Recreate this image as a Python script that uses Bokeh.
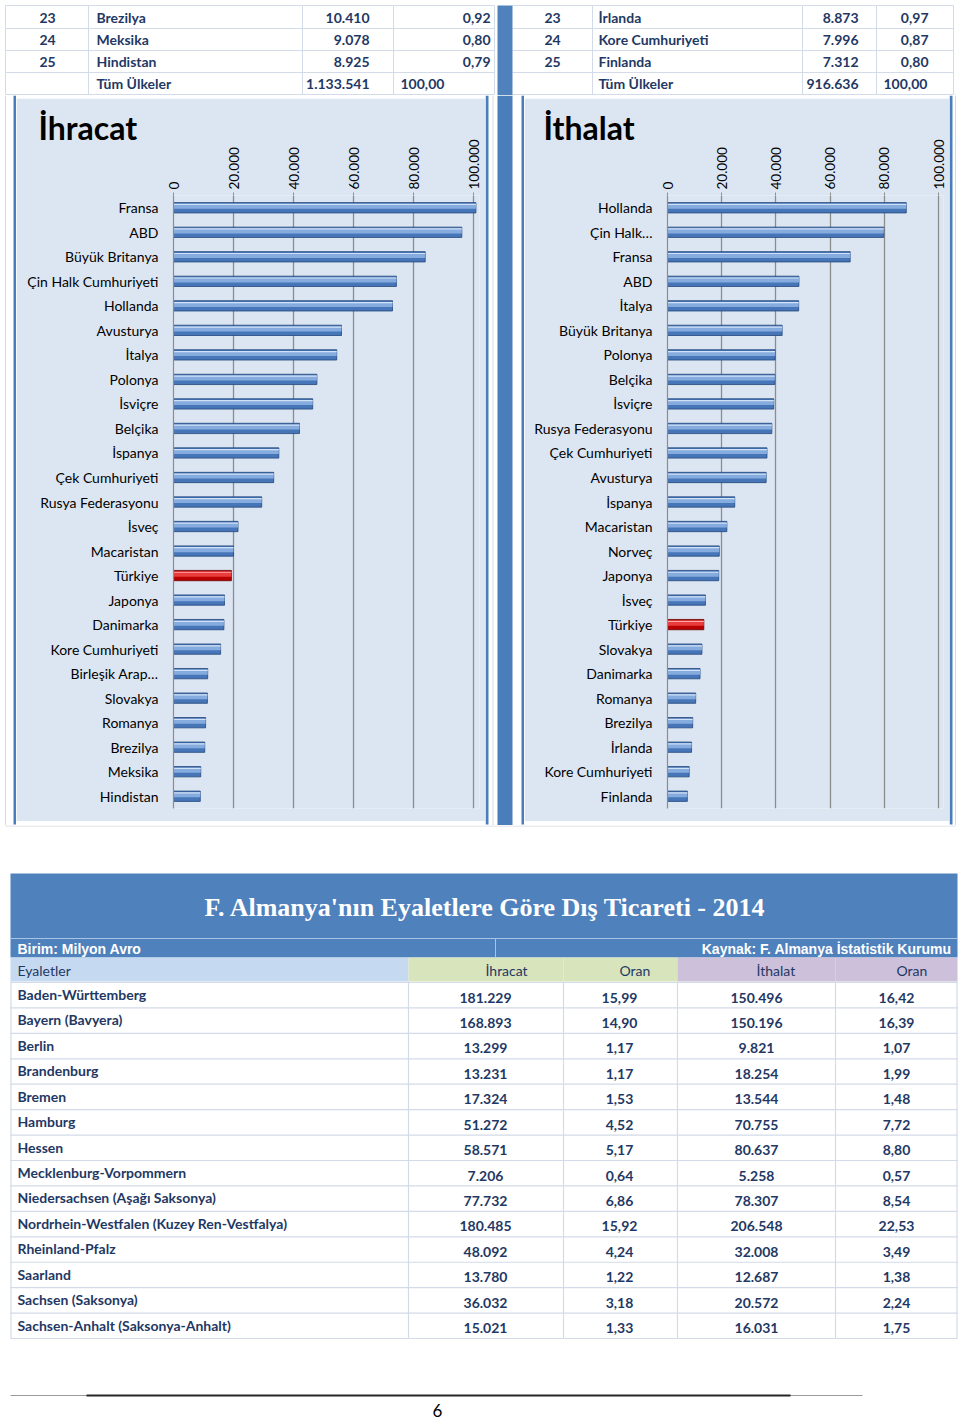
from bokeh.plotting import figure
from bokeh.layouts import column, row
from bokeh.models import ColumnDataSource, FactorRange, Range1d, FixedTicker
from bokeh.transform import dodge
from bokeh.core.properties import value
from bokeh.embed import file_html
from bokeh.resources import INLINE

# ---------------- data ----------------
top_ranks = ["23", "24", "25", ""]
exp_tail_countries = ["Brezilya", "Meksika", "Hindistan", "Tüm Ülkeler"]
exp_tail_values = ["10.410", "9.078", "8.925", "1.133.541"]
exp_tail_shares = ["0,92", "0,80", "0,79", "100,00"]
imp_tail_countries = ["İrlanda", "Kore Cumhuriyeti", "Finlanda", "Tüm Ülkeler"]
imp_tail_values = ["8.873", "7.996", "7.312", "916.636"]
imp_tail_shares = ["0,97", "0,87", "0,80", "100,00"]

export_title = "İhracat"
export_countries = ["Fransa", "ABD", "Büyük Britanya", "Çin Halk Cumhuriyeti", "Hollanda",
                    "Avusturya", "İtalya", "Polonya", "İsviçre", "Belçika", "İspanya",
                    "Çek Cumhuriyeti", "Rusya Federasyonu", "İsveç", "Macaristan", "Türkiye",
                    "Japonya", "Danimarka", "Kore Cumhuriyeti", "Birleşik Arap…", "Slovakya",
                    "Romanya", "Brezilya", "Meksika", "Hindistan"]
export_values = [100800, 96100, 83900, 74300, 73000, 56000, 54400, 47800, 46400, 42000,
                 35100, 33400, 29400, 21500, 20000, 19300, 17000, 16800, 15700, 11400,
                 11300, 10700, 10410, 9078, 8925]

import_title = "İthalat"
import_countries = ["Hollanda", "Çin Halk…", "Fransa", "ABD", "İtalya", "Büyük Britanya",
                    "Polonya", "Belçika", "İsviçre", "Rusya Federasyonu", "Çek Cumhuriyeti",
                    "Avusturya", "İspanya", "Macaristan", "Norveç", "Japonya", "İsveç",
                    "Türkiye", "Slovakya", "Danimarka", "Romanya", "Brezilya", "İrlanda",
                    "Kore Cumhuriyeti", "Finlanda"]
import_values = [88100, 79800, 67400, 48500, 48400, 42300, 39700, 39600, 39200, 38500,
                 36700, 36400, 24800, 21900, 19100, 18900, 14000, 13400, 12700, 12000,
                 10400, 9300, 8873, 7996, 7312]

axis_ticks = [0, 20000, 40000, 60000, 80000, 100000]
axis_tick_labels = ["0", "20.000", "40.000", "60.000", "80.000", "100.000"]
highlight_country = "Türkiye"

table_title = "F. Almanya'nın Eyaletlere Göre Dış Ticareti - 2014"
unit_note = "Birim: Milyon Avro"
source_note = "Kaynak: F. Almanya İstatistik Kurumu"
header_labels = ["Eyaletler", "İhracat", "Oran", "İthalat", "Oran"]
states = ["Baden-Württemberg", "Bayern (Bavyera)", "Berlin", "Brandenburg", "Bremen",
          "Hamburg", "Hessen", "Mecklenburg-Vorpommern", "Niedersachsen (Aşağı Saksonya)",
          "Nordrhein-Westfalen (Kuzey Ren-Vestfalya)", "Rheinland-Pfalz", "Saarland",
          "Sachsen (Saksonya)", "Sachsen-Anhalt (Saksonya-Anhalt)"]
state_exports = ["181.229", "168.893", "13.299", "13.231", "17.324", "51.272", "58.571",
                 "7.206", "77.732", "180.485", "48.092", "13.780", "36.032", "15.021"]
state_export_shares = ["15,99", "14,90", "1,17", "1,17", "1,53", "4,52", "5,17", "0,64",
                       "6,86", "15,92", "4,24", "1,22", "3,18", "1,33"]
state_imports = ["150.496", "150.196", "9.821", "18.254", "13.544", "70.755", "80.637",
                 "5.258", "78.307", "206.548", "32.008", "12.687", "20.572", "16.031"]
state_import_shares = ["16,42", "16,39", "1,07", "1,99", "1,48", "7,72", "8,80", "0,57",
                       "8,54", "22,53", "3,49", "1,38", "2,24", "1,75"]
page_number = "6"

# ---------------- style ----------------
FONT = "Lato"
NAVY = "#1f3864"
BLUE = "#4f81bd"
BOX_BLUE = "#4a7ebb"
BG = "#dce6f2"
GRID = "#8c8c8c"
LINE = "#d3dbe8"
FRAME = "#d9d9d9"


def page_fig(x0, x1, y0, y1, bg="white"):
    p = figure(width=x1 - x0, height=y1 - y0, x_range=Range1d(x0, x1), y_range=Range1d(y1, y0),
               toolbar_location=None, output_backend="svg", min_border=0,
               x_axis_type=None, y_axis_type=None, outline_line_color=None,
               background_fill_color=bg, border_fill_color=bg)
    return p


def txt(p, x, y, t, size="14px", style="bold", color=NAVY, align="left", font=FONT):
    p.text(x=x, y=y, text=t, text_font=value(font), text_font_size=size,
           text_font_style=style, text_color=color, text_align=align, text_baseline="middle")


# ---------------- top table ----------------
top = page_fig(0, 960, 0, 95)
ty = [6 + 22 * i + 11 for i in range(len(top_ranks))]
hy = [5, 28, 50, 72, 94]
for x0, x1 in [(5, 494), (512, 953)]:
    top.segment(x0=[x0] * 5, x1=[x1] * 5, y0=hy, y1=hy, line_color=LINE, line_width=1)
vx = [5, 88, 302, 393, 494, 592, 802, 876, 953]
top.segment(x0=vx, x1=vx, y0=[5] * len(vx), y1=[94] * len(vx), line_color=LINE, line_width=1)
top.segment(x0=[5, 955], x1=[5, 955], y0=[94, 94], y1=[95, 95], line_color=FRAME)
top.quad(left=[497], right=[512], top=[5], bottom=[95], fill_color=BLUE, line_color=None)

txt(top, [47] * 4, ty, top_ranks, align="center")
txt(top, [96] * 4, ty, exp_tail_countries)
txt(top, [369] * 4, ty, exp_tail_values, align="right")
txt(top, [490] * 3, ty[:3], exp_tail_shares[:3], align="right")
txt(top, [400], ty[3:], exp_tail_shares[3:])
txt(top, [552] * 4, ty, top_ranks, align="center")
txt(top, [598] * 4, ty, imp_tail_countries)
txt(top, [858] * 4, ty, imp_tail_values, align="right")
txt(top, [928] * 3, ty[:3], imp_tail_shares[:3], align="right")
txt(top, [883], ty[3:], imp_tail_shares[3:])

# ---------------- bar charts ----------------
CH = 723


def bar_chart(names, vals, title, width, left_pad, frame_w, px_per_unit, title_dx):
    right_pad = width - left_pad - frame_w
    hl = [n == highlight_country for n in names]
    src = ColumnDataSource(dict(
        name=names, val=vals,
        base=["#b80000" if h else "#4676b8" for h in hl],
        edge=["#6a0000" if h else "#23467a" for h in hl],
        mid=["#ea3c3c" if h else "#86acdf" for h in hl],
        hi=["#ffa8a8" if h else "#d2e2f6" for h in hl]))
    p = figure(width=width, height=CH, x_range=Range1d(0, frame_w / px_per_unit),
               y_range=FactorRange(factors=names[::-1]), x_axis_location="above",
               toolbar_location=None, output_backend="svg", title=title,
               min_border_left=left_pad, min_border_right=right_pad,
               min_border_top=97, min_border_bottom=13,
               background_fill_color=BG, border_fill_color=BG, outline_line_color=None)
    p.title.align = "left"
    p.title.offset = title_dx
    p.title.text_font = FONT
    p.title.text_font_size = "32px"
    p.title.text_font_style = "bold"
    p.title.text_color = "black"
    try:
        p.title.standoff = -20
    except Exception:
        p.title.standoff = 0

    p.hbar(y="name", left=0, right="val", height=0.42, source=src,
           fill_color="base", line_color="edge", line_width=0.8)
    p.hbar(y=dodge("name", 0.055, range=p.y_range), left=0, right="val", height=0.2,
           source=src, fill_color="mid", line_color=None)
    p.hbar(y=dodge("name", 0.135, range=p.y_range), left=0, right="val", height=0.05,
           source=src, fill_color="hi", line_color=None)

    xa = p.xaxis[0]
    xa.ticker = FixedTicker(ticks=axis_ticks)
    xa.major_label_overrides = dict(zip(axis_ticks, axis_tick_labels))
    xa.major_label_orientation = "vertical"
    xa.major_label_text_font = FONT
    xa.major_label_text_font_size = "13.5px"
    xa.major_label_text_color = "black"
    xa.major_label_standoff = 3
    xa.axis_line_color = None
    xa.major_tick_line_color = GRID
    xa.major_tick_out = 3
    xa.major_tick_in = 0
    xa.minor_tick_line_color = None

    ya = p.yaxis[0]
    ya.major_label_text_font = FONT
    ya.major_label_text_font_size = "14px"
    ya.major_label_text_color = "black"
    ya.major_label_standoff = 15
    ya.major_tick_line_color = None
    ya.major_tick_out = 0
    ya.axis_line_color = GRID
    ya.axis_line_width = 1.2

    p.xgrid.ticker = FixedTicker(ticks=axis_ticks)
    p.xgrid.grid_line_color = GRID
    p.xgrid.grid_line_width = 1.3
    p.ygrid.visible = False
    return p


left_chart = bar_chart(export_countries, export_values, export_title,
                       469, 157, 306, 0.003, 38 - 173)
right_chart = bar_chart(import_countries, import_values, import_title,
                        425, 143, 276, 0.00271, 543 - 667)


def box_fig(x0, x1, y0, y1, quads, frame_x=None):
    p = page_fig(x0, x1, y0, y1)
    if frame_x is not None:
        p.segment(x0=[frame_x], x1=[frame_x], y0=[y0], y1=[y1], line_color=FRAME)
    p.quad(left=[q[0] for q in quads], right=[q[1] for q in quads],
           top=[q[2] for q in quads], bottom=[q[3] for q in quads],
           fill_color=BOX_BLUE, line_color=None)
    return p


edge_l = box_fig(0, 16, 95, 825, [(13, 16, 95, 824)], frame_x=5)
top_l = box_fig(16, 485, 95, 98, [(16, 485, 95, 98)])
bot_l = box_fig(16, 485, 821, 825, [(16, 485, 821, 824)])
mid = box_fig(485, 524, 95, 825, [(485, 488, 95, 824), (497, 512, 95, 825), (521, 524, 95, 824)],
              frame_x=492.5)
top_r = box_fig(524, 949, 95, 98, [(524, 949, 95, 98)])
bot_r = box_fig(524, 949, 821, 825, [(524, 949, 821, 824)])
edge_r = box_fig(949, 960, 95, 825, [(949, 952, 95, 824)], frame_x=955)

charts = row(edge_l, column(top_l, left_chart, bot_l), mid,
             column(top_r, right_chart, bot_r), edge_r)

# ---------------- bottom table ----------------
bt = page_fig(0, 960, 825, 1421)
bt.segment(x0=[5], x1=[955], y0=[825.5], y1=[825.5], line_color=FRAME)
bt.quad(left=[10], right=[957], top=[873], bottom=[957], fill_color=BLUE, line_color=None)
bt.segment(x0=[10, 495], x1=[957, 495], y0=[938, 938], y1=[938, 957], line_color="#a9c3e6",
           line_width=1)
txt(bt, [485], [907], [table_title], size="26px", color="white", align="center",
    font="Liberation Serif")
txt(bt, [17], [948], [unit_note], size="14px", color="white", font="Liberation Sans")
txt(bt, [951], [948], [source_note], size="14px", color="white", align="right",
    font="Liberation Sans")

col_edges = [10, 408, 563, 677, 835, 957]
header_fill = ["#c5d9f1", "#d8e4bc", "#d8e4bc", "#ccc0da", "#ccc0da"]
bt.quad(left=col_edges[:-1], right=col_edges[1:], top=[957] * 5, bottom=[981] * 5,
        fill_color=header_fill, line_color=None)
num_x = [485, 619, 756, 896]
txt(bt, [17] + num_x, [970] * 5, header_labels, style="normal")

RH = 25.43
row_top = [982 + RH * i for i in range(len(states))]
hlines = [982 + RH * i for i in range(len(states) + 1)]
bt.segment(x0=[10] * len(hlines), x1=[957] * len(hlines), y0=hlines, y1=hlines,
           line_color=LINE, line_width=1.2)
vlines = [10.5, 408, 563, 677, 835, 956.5]
bt.segment(x0=vlines, x1=vlines, y0=[981] * len(vlines), y1=[hlines[-1]] * len(vlines),
           line_color=LINE, line_width=1.2)
txt(bt, [17] * len(states), [t + 12 for t in row_top], states)
for xc, col in zip(num_x, [state_exports, state_export_shares, state_imports,
                           state_import_shares]):
    txt(bt, [xc] * len(col), [t + 15 for t in row_top], col, align="center")

bt.segment(x0=[10], x1=[862], y0=[1395], y1=[1395], line_color="#9a9a9a", line_width=1)
bt.segment(x0=[86], x1=[790], y0=[1395], y1=[1395], line_color="#262626", line_width=2)
txt(bt, [437], [1410], [page_number], size="17px", style="normal", color="black",
    align="center")

layout = column(top, charts, bt)
with open("out.html", "w", encoding="utf-8") as f:
    f.write(file_html(layout, INLINE))
